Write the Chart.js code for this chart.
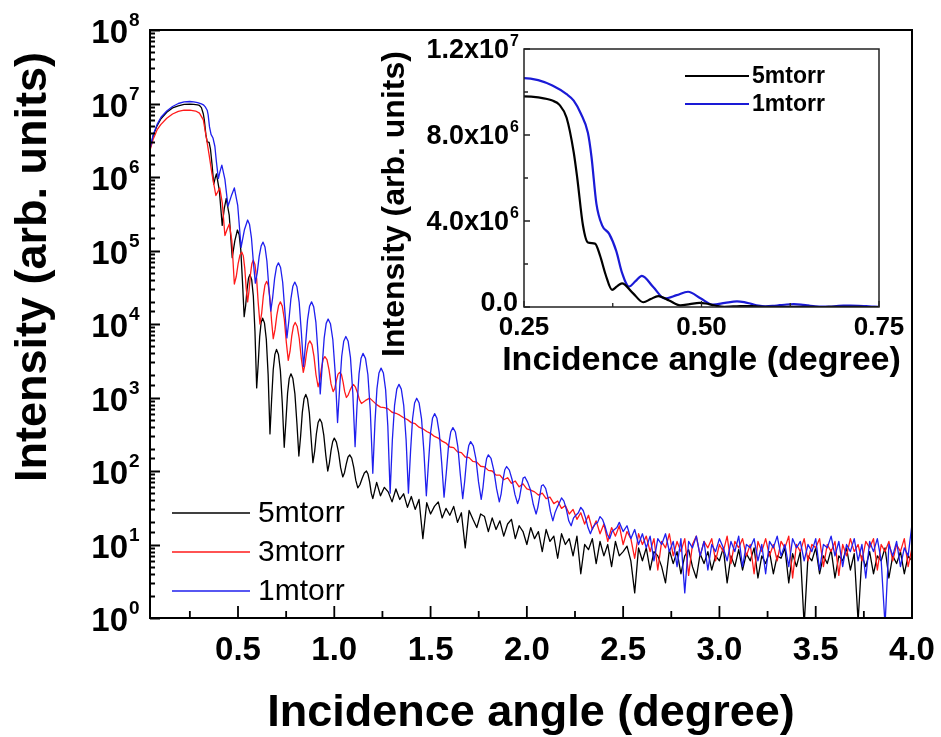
<!DOCTYPE html>
<html>
<head>
<meta charset="utf-8">
<title>XRR curves</title>
<script src="https://cdn.jsdelivr.net/npm/chart.js@4.4.1/dist/chart.umd.min.js"></script>
<style>
  body { margin: 0; background: #fff; }
  #wrap { position: relative; width: 941px; height: 737px; }
  #wrap canvas { position: absolute; left: 0; top: 0; }
</style>
</head>
<body>
<div id="wrap">
  <canvas id="main" width="941" height="737"></canvas>
  <canvas id="inset" width="941" height="737"></canvas>
</div>
<script>
// values (angle in degree, intensity in arb. units)
const seriesNames = ['5mtorr', '3mtorr', '1mtorr'];

const angle5 = [
  0.043, 0.06, 0.08, 0.10, 0.13, 0.16, 0.19, 0.22, 0.25, 0.27,
  0.29, 0.30, 0.31, 0.32, 0.325, 0.333, 0.34, 0.35, 0.357, 0.365,
  0.374, 0.381, 0.388, 0.403, 0.418, 0.4285, 0.439, 0.4545, 0.47, 0.4835, 0.497,
  0.506, 0.5145, 0.523, 0.532,
  0.5395, 0.547, 0.5545, 0.562,
  0.571, 0.5795, 0.588, 0.597,
  0.605, 0.6125, 0.620, 0.628,
  0.6375, 0.647, 0.6565, 0.666,
  0.6745, 0.683, 0.6915, 0.70,
  0.71, 0.72, 0.73, 0.74,
  0.749, 0.7575, 0.766, 0.775,
  0.785, 0.7955, 0.806, 0.816,
  0.825, 0.834, 0.843, 0.852,
  0.861, 0.8705, 0.880, 0.889,
  0.898, 0.907, 0.916, 0.925,
  0.935, 0.9455, 0.956, 0.966,
  0.9745, 0.983, 0.9915, 1.0,
  1.011, 1.022, 1.033, 1.044,
  1.053, 1.062, 1.071, 1.08,
  1.0905, 1.101, 1.1115, 1.122,
  1.133, 1.1445, 1.156, 1.167,
  1.175, 1.1835, 1.192, 1.2
];
const inten5 = [
  2.4e6, 3.7e6, 5.0e6, 6.2e6, 7.6e6, 8.7e6, 9.3e6, 9.7e6, 9.8e6, 9.75e6,
  9.6e6, 9.4e6, 8.8e6, 7.2e6, 6.0e6, 3.8e6, 3.0e6, 2.95e6, 2.4e6, 1.5e6,
  8.0e5, 9.6e5, 1.1e6, 6.6e5, 2.2e5, 3.7e5, 5.1e5, 3.0e5, 8.0e4, 1.35e5, 1.9e5,
  1.64e5, 1.02e5, 3.86e4, 1.26e4,
  1.76e4, 2.96e4, 4.18e4, 4.7e4,
  4.02e4, 2.41e4, 8.0e3, 1.35e3,
  2.91e3, 6.68e3, 1.05e4, 1.2e4,
  1.03e4, 6.18e3, 2.03e3, 320,
  931, 2.4e3, 3.86e3, 4.5e3,
  3.85e3, 2.34e3, 836, 210,
  488, 1.15e3, 1.82e3, 2.1e3,
  1.81e3, 1.12e3, 442, 160,
  296, 628, 959, 1.1e3,
  955, 614, 270, 130,
  185, 321, 457, 510,
  453, 308, 163, 100,
  128, 189, 250, 280,
  247, 179, 111, 83,
  95, 124, 154, 166,
  150, 112, 75, 59,
  65, 79, 94, 100,
  91, 71, 50, 42
];

const angle3 = [
  0.043, 0.06, 0.08, 0.10, 0.13, 0.16, 0.19, 0.22, 0.25, 0.28,
  0.30, 0.32, 0.335, 0.35, 0.365,
  0.385, 0.405, 0.4185, 0.432, 0.4435, 0.455, 0.468, 0.481,
  0.491, 0.5005, 0.510, 0.52,
  0.5275, 0.535, 0.5425, 0.55,
  0.557, 0.5645, 0.572, 0.579,
  0.588, 0.5965, 0.605, 0.614,
  0.623, 0.6315, 0.640, 0.649,
  0.6575, 0.666, 0.6745, 0.683,
  0.692, 0.7015, 0.711, 0.72,
  0.730, 0.7405, 0.751, 0.761,
  0.770, 0.779, 0.788, 0.797,
  0.8075, 0.818, 0.8285, 0.839,
  0.8475, 0.856, 0.8645, 0.873,
  0.884, 0.8945, 0.905, 0.916,
  0.925, 0.9335, 0.942, 0.951,
  0.962, 0.9725, 0.983, 0.994,
  1.0025, 1.011, 1.0195, 1.028,
  1.037, 1.0455, 1.054, 1.063,
  1.072, 1.0815, 1.091, 1.10,
  1.110, 1.1205, 1.131, 1.141,
  1.1625, 1.184
];
const inten3 = [
  2.3e6, 3.3e6, 4.4e6, 5.2e6, 6.3e6, 7.2e6, 7.8e6, 8.1e6, 8.1e6, 7.9e6,
  7.4e6, 6.0e6, 3.5e6, 2.0e6, 1.1e6,
  5.6e5, 7.1e5, 4.4e5, 1.6e5, 1.95e5, 2.3e5, 1.35e5, 3.5e4,
  4.43e4, 6.56e4, 8.67e4, 9.5e4,
  8.45e4, 5.77e4, 3.1e4, 2.0e4,
  2.79e4, 4.7e4, 6.62e4, 7.4e4,
  6.47e4, 4.21e4, 1.94e4, 1.0e4,
  1.41e4, 2.4e4, 3.4e4, 3.8e4,
  3.33e4, 2.22e4, 1.09e4, 6.3e3,
  8.3e3, 1.31e4, 1.79e4, 2.0e4,
  1.75e4, 1.16e4, 5.61e3, 3.2e3,
  4.23e3, 6.82e3, 9.4e3, 1.05e4,
  9.27e3, 6.35e3, 3.45e3, 2.2e3,
  2.77e3, 4.06e3, 5.35e3, 5.9e3,
  5.24e3, 3.63e3, 2.04e3, 1.4e3,
  1.71e3, 2.51e3, 3.3e3, 3.6e3,
  3.27e3, 2.4e3, 1.53e3, 1.2e3,
  1.33e3, 1.71e3, 2.08e3, 2.2e3,
  2.06e3, 1.63e3, 1.2e3, 1.0e3,
  1.08e3, 1.25e3, 1.41e3, 1.5e3,
  1.38e3, 1.16e3, 927, 830,
  912, 980
];

const angle1 = [
  0.043, 0.06, 0.08, 0.10, 0.13, 0.16, 0.19, 0.22, 0.25, 0.27,
  0.29, 0.31, 0.32, 0.33, 0.34, 0.345, 0.352, 0.36, 0.37, 0.38, 0.388,
  0.398, 0.407, 0.416, 0.432, 0.448, 0.465, 0.481, 0.4985, 0.516, 0.533, 0.55,
  0.560, 0.570, 0.580, 0.590,
  0.600, 0.610, 0.620, 0.630,
  0.640, 0.650, 0.660, 0.670,
  0.680, 0.690, 0.700, 0.710,
  0.721, 0.732, 0.743, 0.754,
  0.764, 0.7745, 0.785, 0.795,
  0.806, 0.8175, 0.829, 0.840,
  0.8505, 0.861, 0.8715, 0.882,
  0.893, 0.9045, 0.916, 0.927,
  0.937, 0.9475, 0.958, 0.968,
  0.980, 0.9925, 1.005, 1.017,
  1.028, 1.0385, 1.049, 1.060,
  1.072, 1.084, 1.096, 1.108,
  1.118, 1.1285, 1.139, 1.149,
  1.162, 1.1745, 1.187, 1.200,
  1.211, 1.2215, 1.232, 1.243,
  1.255, 1.2665, 1.278, 1.290,
  1.3015, 1.313, 1.3245, 1.336,
  1.348, 1.3605, 1.373, 1.385,
  1.396, 1.4065, 1.417, 1.428,
  1.4405, 1.453, 1.4655, 1.478,
  1.489, 1.4995, 1.510, 1.521,
  1.533, 1.5455, 1.558, 1.570,
  1.5815, 1.593, 1.6045, 1.616,
  1.629, 1.6415, 1.654, 1.667,
  1.677, 1.6875, 1.698, 1.708,
  1.722, 1.7355, 1.749, 1.763,
  1.772, 1.7815, 1.791, 1.800,
  1.814, 1.8285, 1.843, 1.857,
  1.8665, 1.876, 1.8855, 1.895,
  1.909, 1.9235, 1.938, 1.952,
  1.9615, 1.971, 1.9805, 1.990,
  2.0045, 2.019, 2.0335, 2.048,
  2.057, 2.0665, 2.076, 2.085,
  2.0975, 2.11, 2.1225, 2.135,
  2.146, 2.1575, 2.169, 2.180,
  2.1925, 2.205, 2.2175, 2.230,
  2.2425, 2.255, 2.2675, 2.280,
  2.2925, 2.305, 2.3175, 2.330,
  2.3425, 2.355, 2.3675, 2.380,
  2.3925, 2.405, 2.4175, 2.430,
  2.4425, 2.455, 2.4675, 2.480
];
const inten1 = [
  2.4e6, 3.8e6, 5.2e6, 6.5e6, 7.9e6, 9.1e6, 1.0e7, 1.05e7, 1.065e7, 1.055e7,
  1.03e7, 9.9e6, 9.6e6, 9.0e6, 8.1e6, 7.0e6, 4.8e6, 3.8e6, 3.4e6, 2.6e6, 1.6e6,
  9.5e5, 1.2e6, 1.45e6, 9.3e5, 4.0e5, 5.5e5, 7.1e5, 4.1e5, 1.1e5, 1.9e5, 2.6e5,
  2.25e5, 1.47e5, 6.85e4, 3.6e4,
  5.0e4, 8.3e4, 1.15e5, 1.3e5,
  1.12e5, 7.2e4, 3.18e4, 1.5e4,
  2.29e4, 4.14e4, 6.0e4, 6.8e4,
  5.87e4, 3.7e4, 1.54e4, 6.46e3,
  1.1e4, 2.18e4, 3.27e4, 3.72e4,
  3.21e4, 1.99e4, 7.69e3, 2.63e3,
  5.16e3, 1.13e4, 1.74e4, 2.0e4,
  1.72e4, 1.05e4, 3.88e3, 1.12e3,
  2.67e3, 6.43e3, 1.02e4, 1.17e4,
  1.01e4, 6.11e3, 2.11e3, 457,
  1.38e3, 3.61e3, 5.83e3, 6.76e3,
  5.81e3, 3.49e3, 1.17e3, 214,
  764, 2.1e3, 3.43e3, 3.98e3,
  3.41e3, 2.04e3, 661, 93,
  448, 1.31e3, 2.16e3, 2.51e3,
  2.15e3, 1.28e3, 410, 50,
  264, 783, 1.3e3, 1.51e3,
  1.3e3, 783, 264, 50,
  185, 514, 841, 977,
  841, 513, 182, 46,
  127, 324, 521, 603,
  521, 324, 126, 44,
  94, 216, 339, 389,
  339, 215, 92, 42,
  72, 147, 220, 251,
  220, 146, 71, 41,
  59, 103, 148, 166,
  148, 102, 57, 38,
  49, 76, 104, 115,
  103, 76, 48, 36,
  43, 60, 80, 83,
  70, 55, 35, 26,
  32, 45, 63, 65,
  58, 43, 28, 21,
  27, 32, 37, 43,
  39, 30, 21, 18,
  23, 25, 27, 32,
  29, 23, 17, 14,
  17, 19, 20, 24,
  22, 18, 13.8, 12,
  15, 16, 17, 20
];

// noisy tails, sampled every 0.02 degree
const tailAngles = [
  1.22, 1.24, 1.26, 1.28, 1.30, 1.32, 1.34, 1.36, 1.38, 1.40,
  1.42, 1.44, 1.46, 1.48, 1.50, 1.52, 1.54, 1.56, 1.58, 1.60,
  1.62, 1.64, 1.66, 1.68, 1.70, 1.72, 1.74, 1.76, 1.78, 1.80,
  1.82, 1.84, 1.86, 1.88, 1.90, 1.92, 1.94, 1.96, 1.98, 2.00,
  2.02, 2.04, 2.06, 2.08, 2.10, 2.12, 2.14, 2.16, 2.18, 2.20,
  2.22, 2.24, 2.26, 2.28, 2.30, 2.32, 2.34, 2.36, 2.38, 2.40,
  2.42, 2.44, 2.46, 2.48, 2.50, 2.52, 2.54, 2.56, 2.58, 2.60,
  2.62, 2.64, 2.66, 2.68, 2.70, 2.72, 2.74, 2.76, 2.78, 2.80,
  2.82, 2.84, 2.86, 2.88, 2.90, 2.92, 2.94, 2.96, 2.98, 3.00,
  3.02, 3.04, 3.06, 3.08, 3.10, 3.12, 3.14, 3.16, 3.18, 3.20,
  3.22, 3.24, 3.26, 3.28, 3.30, 3.32, 3.34, 3.36, 3.38, 3.40,
  3.42, 3.44, 3.46, 3.48, 3.50, 3.52, 3.54, 3.56, 3.58, 3.60,
  3.62, 3.64, 3.66, 3.68, 3.70, 3.72, 3.74, 3.76, 3.78, 3.80,
  3.82, 3.84, 3.86, 3.88, 3.90, 3.92, 3.94, 3.96, 3.98, 4.00
];
const tail5 = [
  70, 46, 60, 52, 38, 57, 41, 49, 32, 45,
  30, 41, 12, 37, 26, 33, 38, 23, 31, 25,
  33, 20, 27, 9, 29, 22, 17, 26, 24, 15,
  23, 16, 21, 13, 19, 22, 12, 18, 15, 10,
  17, 12, 15, 8, 16, 11, 13, 6.5, 14, 10,
  12, 7, 13, 4, 10, 8.5, 12, 5.5, 11, 7,
  10, 5, 11, 7, 8, 9.5, 6, 2.2, 9, 6,
  9, 4.5, 8, 7, 5, 3, 8.5, 5.5, 8, 4,
  7, 8.5, 5, 3.5, 7.5, 5.5, 8, 4.5, 7, 6,
  9, 3, 7, 5, 8.5, 4.5, 7.5, 6, 9, 3.5,
  7, 5.5, 8, 4, 7, 6.5, 9, 3, 7.5, 5,
  8, 0.8, 7, 6, 9, 4, 7, 5.5, 8.5, 3.5,
  7, 6, 9, 4.5, 7.5, 0.9, 7, 5, 8, 4,
  7, 6, 9, 3.5, 7, 5.5, 8, 4, 7, 6
];
const tail3 = [
  800, 740, 730, 700, 630, 610, 575, 530, 500, 455,
  440, 395, 375, 345, 325, 295, 280, 255, 240, 212,
  208, 182, 178, 155, 152, 135, 132, 116, 114, 102,
  100, 88, 88, 76, 81, 68, 73, 61, 67, 57,
  55, 52, 47, 50, 42, 44, 36, 39, 31, 34,
  26, 30, 22, 27, 19, 25, 16, 21, 14, 19,
  11, 17, 13, 18, 10, 15, 12, 6.5, 14, 10,
  13, 8, 12, 4.5, 11, 9, 14, 7, 11, 8,
  12, 3.8, 10, 13, 7, 11, 9, 12, 6, 10,
  8, 13, 5.5, 11, 9, 12, 7, 10, 4, 11,
  8, 12, 7, 10, 6, 11, 9, 13, 3.5, 10,
  8, 12, 6, 10, 9, 12, 5, 10, 8, 11,
  3.8, 10, 7, 12, 8, 10, 6, 11, 9, 12,
  4.5, 10, 8, 11, 6, 10, 8, 12, 5, 9
];
// 1mtorr tail starts at 2.50
const tail1 = [
  15, 18, 12, 16, 10, 14, 9, 13, 6, 12,
  10, 14, 8, 11, 5, 12, 2.2, 11, 9, 13,
  7, 11, 4.5, 10, 8, 12, 9, 6, 11, 8,
  13, 5, 10, 9, 12, 6, 10, 4, 11, 9,
  13, 7, 10, 5, 12, 9, 11, 6, 10, 8,
  12, 4.5, 10, 9, 13, 7, 11, 5, 10, 8,
  12, 6, 10, 3.5, 11, 8, 12, 6, 0.8, 10,
  7, 11, 5, 9, 7, 19
];

// axis ticks
const mainXTicks = [0.5, 1.0, 1.5, 2.0, 2.5, 3.0, 3.5, 4.0];
const mainXLabels = ['0.5', '1.0', '1.5', '2.0', '2.5', '3.0', '3.5', '4.0'];
const mainXMinor = [0.25, 0.75, 1.25, 1.75, 2.25, 2.75, 3.25, 3.75];
const mainYExp = [0, 1, 2, 3, 4, 5, 6, 7, 8];

const insetXTicks = [0.25, 0.5, 0.75];
const insetXLabels = ['0.25', '0.50', '0.75'];
const insetXMinor = [0.375, 0.625];
const insetYTicks = [0, 4e6, 8e6, 1.2e7];
const insetYLabels = ['0.0', '4.0x10', '8.0x10', '1.2x10'];
const insetYPowers = ['', '6', '6', '7'];
const insetYMinor = [2e6, 6e6, 1e7];

const FONT = '"Liberation Sans", Arial, Helvetica, sans-serif';
const colors = ['#000000', '#ff1a1a', '#1f1fee'];

[[angle5, inten5], [angle3, inten3], [angle1, inten1], [tailAngles, tail5], [tailAngles, tail3]]
  .forEach(([a, b], i) => {
    if (a.length !== b.length) throw new Error('length mismatch ' + i + ': ' + a.length + ' vs ' + b.length);
  });

function points(angles, values) {
  return angles.map((a, i) => ({ x: a, y: values[i] }));
}
const tail1Angles = tailAngles.slice(tailAngles.length - tail1.length);
const data5 = points(angle5, inten5).concat(points(tailAngles, tail5));
const data3 = points(angle3, inten3).concat(points(tailAngles, tail3));
const data1 = points(angle1, inten1).concat(points(tail1Angles, tail1));

const mainDecor = {
  id: 'mainDecor',
  afterDraw(chart) {
    const { ctx, chartArea: a, scales: { x, y } } = chart;
    ctx.save();
    ctx.strokeStyle = '#000';
    ctx.fillStyle = '#000';
    ctx.lineWidth = 2;
    ctx.strokeRect(a.left, a.top, a.right - a.left, a.bottom - a.top);

    // ticks point inward
    ctx.lineWidth = 1.8;
    ctx.beginPath();
    mainXTicks.forEach(v => {
      const px = x.getPixelForValue(v);
      ctx.moveTo(px, a.bottom);
      ctx.lineTo(px, a.bottom - 12);
    });
    mainXMinor.forEach(v => {
      const px = x.getPixelForValue(v);
      ctx.moveTo(px, a.bottom);
      ctx.lineTo(px, a.bottom - 7);
    });
    y.ticks.forEach(t => {
      const lg = Math.log10(t.value);
      const major = Math.abs(lg - Math.round(lg)) < 1e-6;
      const py = Math.round(y.getPixelForValue(t.value)) + 0.5;
      ctx.moveTo(a.left, py);
      ctx.lineTo(a.left + (major ? 10 : 5), py);
    });
    ctx.stroke();

    // x tick labels
    ctx.font = 'bold 33px ' + FONT;
    ctx.textAlign = 'center';
    ctx.textBaseline = 'alphabetic';
    mainXTicks.forEach((v, i) => {
      ctx.fillText(mainXLabels[i], x.getPixelForValue(v), a.bottom + 42);
    });

    // y tick labels 10^n
    mainYExp.forEach(e => {
      const py = y.getPixelForValue(Math.pow(10, e));
      ctx.font = 'bold 33px ' + FONT;
      ctx.textAlign = 'right';
      ctx.fillText('10', 128, py + 13);
      ctx.font = 'bold 19px ' + FONT;
      ctx.textAlign = 'left';
      ctx.fillText(String(e), 129, py - 4);
    });

    // axis titles
    ctx.font = 'bold 45px ' + FONT;
    ctx.textAlign = 'center';
    ctx.fillText('Incidence angle (degree)', (a.left + a.right) / 2, 726);
    ctx.save();
    ctx.translate(34, 267);
    ctx.rotate(-Math.PI / 2);
    ctx.textBaseline = 'middle';
    ctx.fillText('Intensity (arb. units)', 0, 0);
    ctx.restore();

    // legend
    const rows = [513, 552, 591];
    ctx.font = '30px ' + FONT;
    ctx.textAlign = 'left';
    ctx.textBaseline = 'middle';
    chart.data.datasets.forEach((ds, i) => {
      ctx.strokeStyle = ds.borderColor;
      ctx.lineWidth = 1.5;
      ctx.beginPath();
      ctx.moveTo(172, rows[i]);
      ctx.lineTo(250, rows[i]);
      ctx.stroke();
      ctx.fillText(ds.label, 258, rows[i] + 1);
    });
    ctx.restore();
  }
};

const insetDecor = {
  id: 'insetDecor',
  beforeDatasetsDraw(chart) {
    const { ctx, chartArea: a } = chart;
    ctx.save();
    ctx.fillStyle = '#fff';
    ctx.fillRect(a.left, a.top, a.right - a.left, a.bottom - a.top);
    ctx.restore();
  },
  afterDraw(chart) {
    const { ctx, chartArea: a, scales: { x, y } } = chart;
    ctx.save();
    ctx.strokeStyle = '#222';
    ctx.fillStyle = '#000';
    ctx.lineWidth = 1.5;
    ctx.strokeRect(a.left, a.top, a.right - a.left, a.bottom - a.top);

    ctx.lineWidth = 1.3;
    ctx.beginPath();
    insetXTicks.forEach(v => {
      const px = x.getPixelForValue(v);
      ctx.moveTo(px, a.bottom);
      ctx.lineTo(px, a.bottom - 6);
    });
    insetXMinor.forEach(v => {
      const px = x.getPixelForValue(v);
      ctx.moveTo(px, a.bottom);
      ctx.lineTo(px, a.bottom - 4);
    });
    insetYTicks.forEach(v => {
      const py = y.getPixelForValue(v);
      ctx.moveTo(a.left, py);
      ctx.lineTo(a.left + 6, py);
    });
    insetYMinor.forEach(v => {
      const py = y.getPixelForValue(v);
      ctx.moveTo(a.left, py);
      ctx.lineTo(a.left + 4, py);
    });
    ctx.stroke();

    ctx.font = 'bold 26px ' + FONT;
    ctx.textAlign = 'center';
    ctx.textBaseline = 'alphabetic';
    insetXTicks.forEach((v, i) => {
      ctx.fillText(insetXLabels[i], x.getPixelForValue(v), a.bottom + 28);
    });

    insetYTicks.forEach((v, i) => {
      const py = y.getPixelForValue(v);
      ctx.font = 'bold 16px ' + FONT;
      const sw = insetYPowers[i] ? ctx.measureText(insetYPowers[i]).width : 0;
      const right = a.left - 6 - sw;
      ctx.textAlign = 'left';
      ctx.fillText(insetYPowers[i], right + 1, py - 3);
      ctx.font = 'bold 27px ' + FONT;
      ctx.textAlign = 'right';
      ctx.fillText(insetYLabels[i], right, py + (v === 0 ? 4 : 9));
    });

    ctx.font = 'bold 34px ' + FONT;
    ctx.textAlign = 'center';
    ctx.fillText('Incidence angle (degree)', (a.left + a.right) / 2, 370);
    ctx.save();
    ctx.font = 'bold 32px ' + FONT;
    ctx.translate(395, 204);
    ctx.rotate(-Math.PI / 2);
    ctx.textBaseline = 'middle';
    ctx.fillText('Intensity (arb. units)', 0, 0);
    ctx.restore();

    const rows = [76, 104];
    ctx.font = 'bold 23px ' + FONT;
    ctx.textAlign = 'left';
    ctx.textBaseline = 'middle';
    chart.data.datasets.forEach((ds, i) => {
      ctx.strokeStyle = ds.borderColor;
      ctx.lineWidth = 2;
      ctx.beginPath();
      ctx.moveTo(685, rows[i]);
      ctx.lineTo(749, rows[i]);
      ctx.stroke();
      ctx.fillText(ds.label, 752, rows[i] + 1);
    });
    ctx.restore();
  }
};

new Chart(document.getElementById('main'), {
  type: 'line',
  data: {
    datasets: [
      { label: seriesNames[0], data: data5, borderColor: colors[0], order: 2 },
      { label: seriesNames[1], data: data3, borderColor: colors[1], order: 1 },
      { label: seriesNames[2], data: data1, borderColor: colors[2], order: 0 }
    ]
  },
  options: {
    responsive: false,
    animation: false,
    devicePixelRatio: 1,
    layout: { padding: { left: 150, right: 29, top: 30, bottom: 119 } },
    elements: {
      line: { borderWidth: 1.3, tension: 0, borderJoinStyle: 'round' },
      point: { radius: 0 }
    },
    scales: {
      x: { type: 'linear', min: 0.043, max: 4.0, display: false },
      y: { type: 'logarithmic', min: 1, max: 1e8, display: false, ticks: { autoSkip: false } }
    },
    plugins: { legend: { display: false }, tooltip: { enabled: false } }
  },
  plugins: [mainDecor]
});

new Chart(document.getElementById('inset'), {
  type: 'line',
  data: {
    datasets: [
      { label: seriesNames[0], data: data5, borderColor: colors[0] },
      { label: seriesNames[2], data: data1, borderColor: '#1a1ad6' }
    ]
  },
  options: {
    responsive: false,
    animation: false,
    devicePixelRatio: 1,
    layout: { padding: { left: 524, right: 62, top: 49, bottom: 430 } },
    elements: {
      line: { borderWidth: 2.2, cubicInterpolationMode: 'monotone' },
      point: { radius: 0 }
    },
    scales: {
      x: { type: 'linear', min: 0.25, max: 0.75, display: false },
      y: { type: 'linear', min: 0, max: 1.2e7, display: false }
    },
    plugins: { legend: { display: false }, tooltip: { enabled: false } }
  },
  plugins: [insetDecor]
});
</script>
</body>
</html>
